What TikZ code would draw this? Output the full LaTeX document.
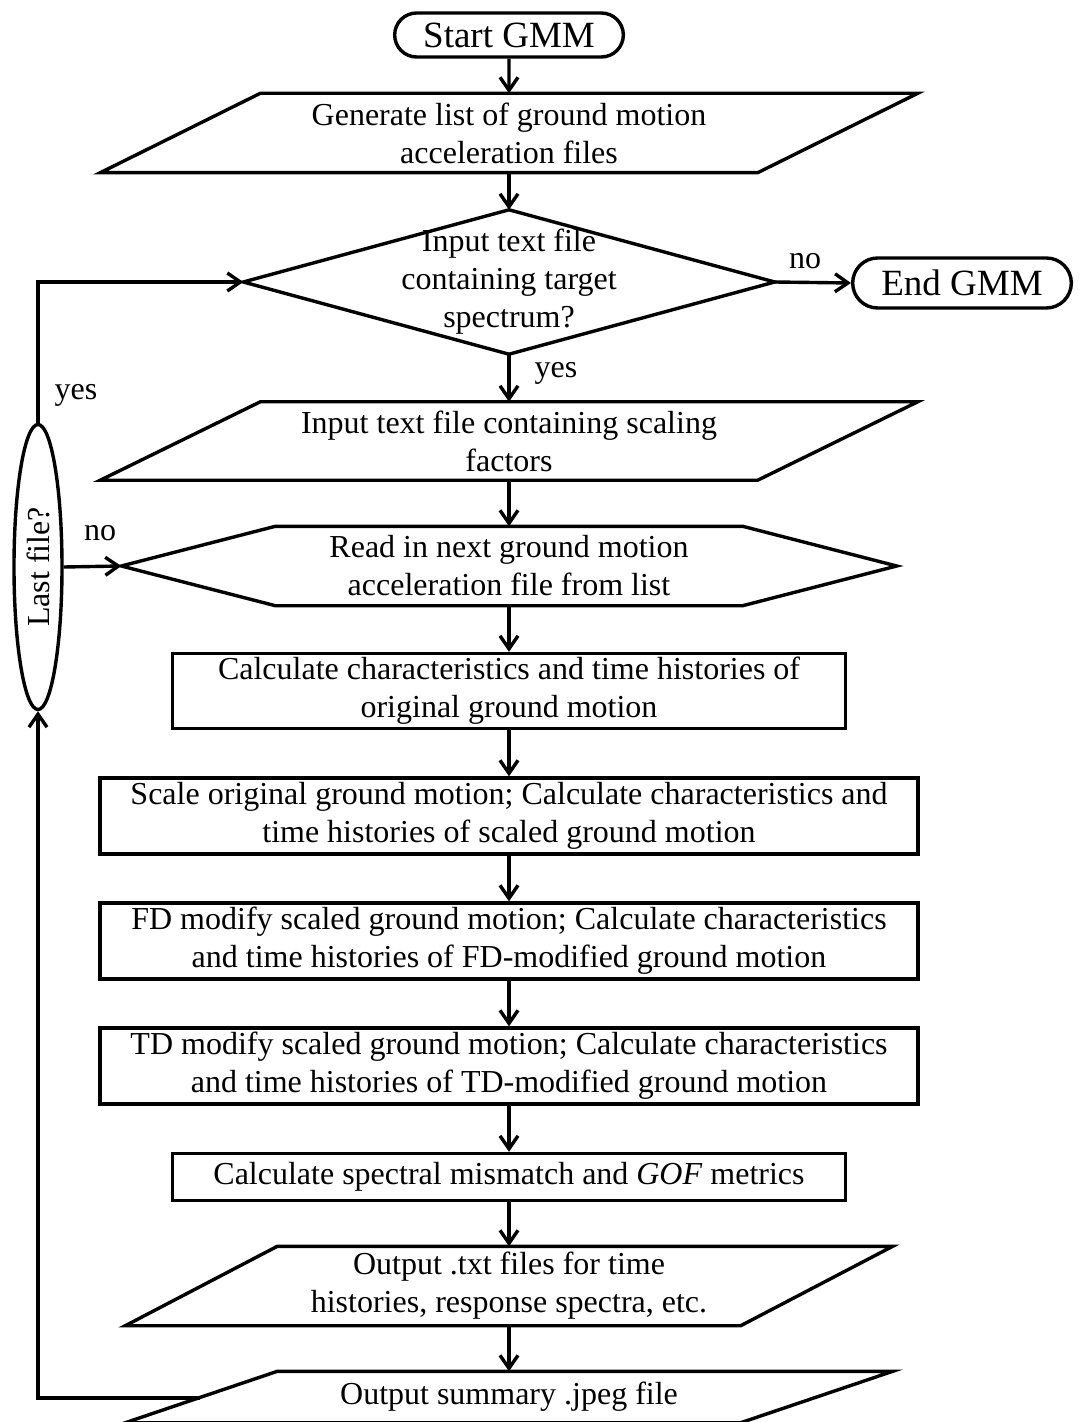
\documentclass[tikz,border=0pt]{standalone}
\usepackage{fontspec}
\setmainfont{Liberation Serif}
\usetikzlibrary{shapes.geometric,shapes.misc,arrows.meta}

\begin{document}
\begin{tikzpicture}[x=0.5pt, y=-0.5pt, line width=1.7pt,
	>={Straight Barb[length=6.5pt,width=9pt]},
	txt/.style={font=\fontsize{16}{19}\selectfont},
	term/.style={rounded rectangle, draw, txt, font=\fontsize{18.5}{21}\selectfont},
	body/.style={rectangle, txt, align=center, inner sep=0pt},
	box/.style={body, draw}]
		\useasboundingbox (0,0) rectangle (1080,1422);
		
		\node[term, minimum width=121pt, minimum height=22pt] (start) at (509, 35)   {Start GMM};
		\node[term, minimum width=116pt, minimum height=25pt] (endg) at (962, 283)  {End GMM};
		
		\begin{scope}[every node/.style={body}]
		\node[minimum width=327pt, minimum height=38pt] (gen)  at (509, 133)  {Generate list of ground motion\\acceleration files};
		\node[minimum width=264pt, minimum height=70.5pt] (dec) at (509, 282) {Input text file\\containing target\\spectrum?};
		\node[minimum width=327pt, minimum height=37.5pt] (scal) at (509, 441) {Input text file containing scaling\\factors};
		\node[minimum width=386pt, minimum height=38pt] (hex)  at (509, 566)  {Read in next ground motion\\acceleration file from list};
		\node[minimum width=306pt, minimum height=38pt] (outt) at (509, 1286) {Output .txt files for time\\histories, response spectra, etc.};
		\node[minimum width=306pt, minimum height=24pt] (summ) at (509, 1397) {Output summary .jpeg file};
		\end{scope}
		
		\begin{scope}[every node/.style={box}]
		\node[minimum width=336.5pt, minimum height=37.5pt] (calc) at (509, 691)  {Calculate characteristics and time histories of\\original ground motion};
		\node[minimum width=409pt, minimum height=38pt] (scl) at (509, 816)  {Scale original ground motion; Calculate characteristics and\\time histories of scaled ground motion};
		\node[minimum width=409pt, minimum height=38pt] (fdm) at (509, 941)  {FD modify scaled ground motion; Calculate characteristics\\and time histories of FD-modified ground motion};
		\node[minimum width=409pt, minimum height=38pt] (tdm) at (509, 1066) {TD modify scaled ground motion; Calculate characteristics\\and time histories of TD-modified ground motion};
		\node[minimum width=336.5pt, minimum height=23.5pt] (gof) at (509, 1177) {Calculate spectral mismatch and \textit{GOF} metrics};
		\end{scope}
		
		\node[ellipse, draw, rotate=90, txt, minimum width=142.5pt, minimum height=24pt, inner sep=0pt] (lf) at (38, 567) {Last file?};
		
		% outlines
		\foreach \n/\s in {gen/40pt, scal/40pt, outt/38pt, summ/38pt}
			\draw ([xshift=\s]\n.north west) -- ([xshift=\s]\n.north east) -- ([xshift=-\s]\n.south east) -- ([xshift=-\s]\n.south west) -- cycle;
		\draw (dec.north) -- (dec.east) -- (dec.south) -- (dec.west) -- cycle;
		\draw (hex.west) -- ([xshift=77pt]hex.north west) -- ([xshift=-77pt]hex.north east) -- (hex.east) -- ([xshift=-77pt]hex.south east) -- ([xshift=77pt]hex.south west) -- cycle;
		
		\begin{scope}[every node/.style={txt}]
		\node (yes-a) at (556, 373) {yes};
		\node (no-a)  at (805, 261) {no};
		\node (yes-b) at (76, 395)  {yes};
		\node (no-b)  at (100, 533) {no};
		\end{scope}
		
		\path [->] (start) edge (gen);
		\path [->] (gen) edge (dec);
		\path [->] (dec) edge (scal);
		\path [->] (scal) edge (hex);
		\path [->] (hex) edge (calc);
		\path [->] (calc) edge (scl);
		\path [->] (scl) edge (fdm);
		\path [->] (fdm) edge (tdm);
		\path [->] (tdm) edge (gof);
		\path [->] (gof) edge (outt);
		\path [->] (outt) edge (summ);
		
		\path [->] (dec.east) edge (endg.west);
		
		\coordinate (back) at (200, 1398);
		\draw [->] (back) -| (lf.west);
		\draw [->] (lf.east) |- (dec.west);
		\draw [->] (lf.south) -- (hex.west);
		
\end{tikzpicture}
\end{document}
